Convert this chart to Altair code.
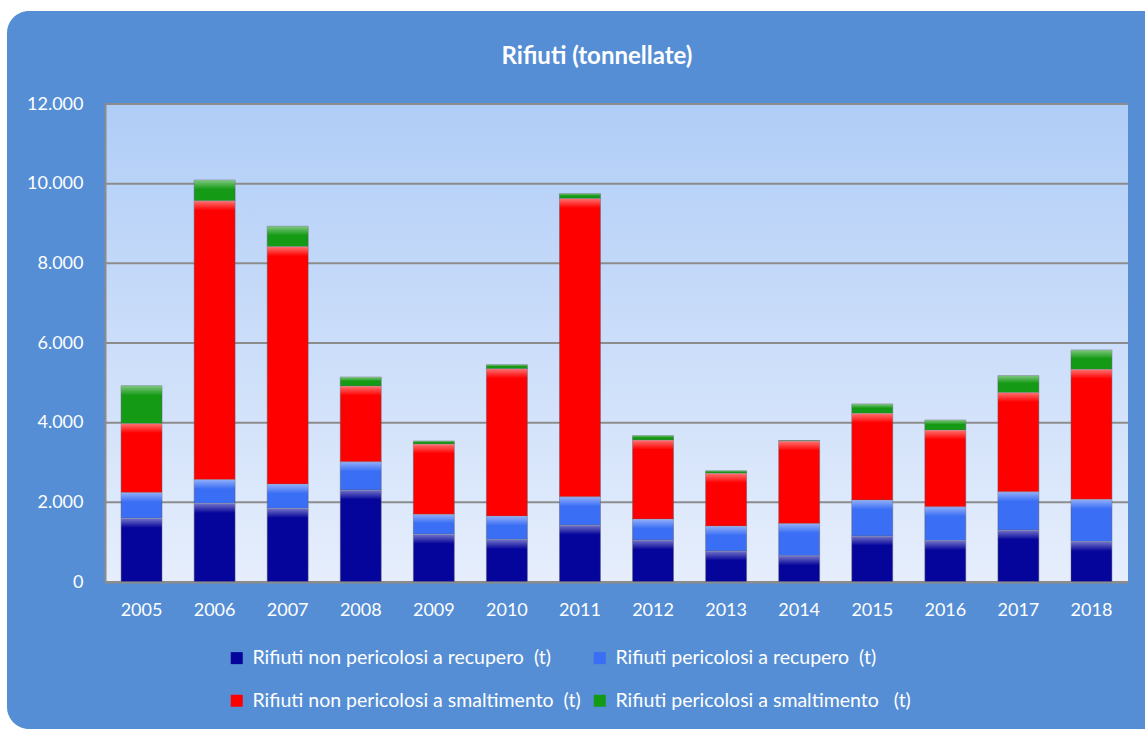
import altair as alt
import pandas as pd

# Annual waste quantities (tonnes), stacked by category
anni = ["2005", "2006", "2007", "2008", "2009", "2010", "2011",
        "2012", "2013", "2014", "2015", "2016", "2017", "2018"]

non_pericolosi_recupero = [1600, 1975, 1850, 2310, 1200, 1070, 1430,
                           1055, 780, 660, 1155, 1040, 1305, 1015]
pericolosi_recupero = [650, 600, 610, 710, 500, 585, 710,
                       525, 625, 810, 905, 850, 960, 1060]
non_pericolosi_smaltimento = [1730, 6995, 5960, 1900, 1765, 3700, 7490,
                              1985, 1325, 2070, 2175, 1925, 2495, 3265]
pericolosi_smaltimento = [945, 520, 510, 225, 75, 100, 120,
                          110, 60, 10, 235, 250, 420, 485]

serie = [
    "Rifiuti non pericolosi a recupero \u00a0(t)",
    "Rifiuti pericolosi a recupero \u00a0(t)",
    "Rifiuti non pericolosi a smaltimento \u00a0(t)",
    "Rifiuti pericolosi a smaltimento \u00a0\u00a0(t)",
]
colori = ["#05059c", "#3a6ef5", "#ff0000", "#159a15"]
y_ticks = [0, 2000, 4000, 6000, 8000, 10000, 12000]
titolo = "Rifiuti (tonnellate)"

valori = [non_pericolosi_recupero, pericolosi_recupero,
          non_pericolosi_smaltimento, pericolosi_smaltimento]

righe = []
for i, anno in enumerate(anni):
    base = 0
    for k, nome in enumerate(serie):
        v = valori[k][i]
        top = base + v
        righe.append({
            "anno": anno, "serie": nome, "ordine": k, "valore": v,
            "base": base, "top": top,
            "luce": top - min(v * 0.45, 240),
        })
        base = top
df = pd.DataFrame(righe)
griglia = pd.DataFrame({"v": y_ticks})

W, H = 1023, 478
PAD_L, PAD_T = 105, 104
FONT = "Lato"

uno = pd.DataFrame({"a": [0]})

y_scale = alt.Scale(domain=[0, 12000], nice=False)
y_axis = alt.Axis(values=y_ticks, labelColor="white", labelFontSize=18,
                  labelFont=FONT, labelPadding=22, ticks=False, grid=False,
                  labelExpr="replace(format(datum.value, ','), ',', '.')",
                  domainColor="#8c8c8c", domainWidth=2, zindex=1)

# Rounded blue panel behind everything
pannello = alt.Chart(uno).mark_rect(
    color="#558ed5", cornerRadius=22
).encode(
    x=alt.value(7 - PAD_L), x2=alt.value(1170 - PAD_L),
    y=alt.value(11 - PAD_T), y2=alt.value(729 - PAD_T),
)

# Plot area with vertical gradient
sfondo = alt.Chart(uno).mark_rect(
    color=alt.LinearGradient(
        gradient="linear", x1=0, x2=0, y1=0, y2=1,
        stops=[alt.GradientStop(color="#b0cdf7", offset=0),
               alt.GradientStop(color="#e6eefc", offset=1)],
    )
).encode(
    x=alt.value(0), x2=alt.value(W), y=alt.value(0), y2=alt.value(H),
)

# Horizontal gridlines at the tick values
linee = alt.Chart(griglia).mark_rule(color="#8c8c8c", strokeWidth=2).encode(
    y=alt.Y("v:Q", scale=y_scale, axis=y_axis, title=None),
    x=alt.value(0), x2=alt.value(W),
)

titolo_testo = alt.Chart(uno).mark_text(
    text=titolo, color="white", fontSize=24, font=FONT, fontWeight="bold",
    align="center", baseline="middle",
).encode(x=alt.value(597 - PAD_L), y=alt.value(57 - PAD_T))

x_enc = alt.X(
    "anno:N", sort=anni, title=None,
    scale=alt.Scale(paddingInner=0.44, paddingOuter=0.22),
    axis=alt.Axis(labelAngle=0, labelColor="white", labelFontSize=18,
                  labelFont=FONT, labelPadding=19, ticks=False,
                  domainColor="#8c8c8c", domainWidth=2, zindex=1),
)

barre = alt.Chart(df).mark_bar(
    stroke="#5a5a6a", strokeWidth=0.8, strokeOpacity=0.6
).encode(
    x=x_enc,
    y=alt.Y("base:Q", title=None, scale=y_scale, axis=y_axis),
    y2="top:Q",
    color=alt.Color(
        "serie:N",
        scale=alt.Scale(domain=serie, range=colori),
        legend=alt.Legend(
            title=None, orient="none", legendX=122, legendY=544,
            direction="horizontal", columns=2, columnPadding=9,
            rowPadding=22,
            symbolType="square", symbolSize=144, symbolStrokeWidth=0,
            labelColor="white", labelFontSize=19.5, labelFont=FONT,
            labelLimit=600, labelOffset=6,
        ),
    ),
    order=alt.Order("ordine:Q"),
)

# Soft highlight at the top of each segment
luci = alt.Chart(df).mark_bar(
    fill=alt.LinearGradient(
        gradient="linear", x1=0, x2=0, y1=0, y2=1,
        stops=[alt.GradientStop(color="rgba(255,255,255,0.45)", offset=0),
               alt.GradientStop(color="rgba(255,255,255,0)", offset=1)],
    )
).encode(
    x=alt.X("anno:N", sort=anni),
    y=alt.Y("top:Q"),
    y2="luce:Q",
)

chart = alt.layer(pannello, sfondo, linee, barre, luci, titolo_testo).properties(
    width=W, height=H,
    background="white",
    padding={"left": PAD_L, "top": PAD_T, "right": 1145 - PAD_L - W,
             "bottom": 729 - PAD_T - H},
    autosize=alt.AutoSizeParams(type="none"),
).configure_view(stroke=None)

chart.save("out.html", embed_options={"renderer": "svg", "actions": False})
